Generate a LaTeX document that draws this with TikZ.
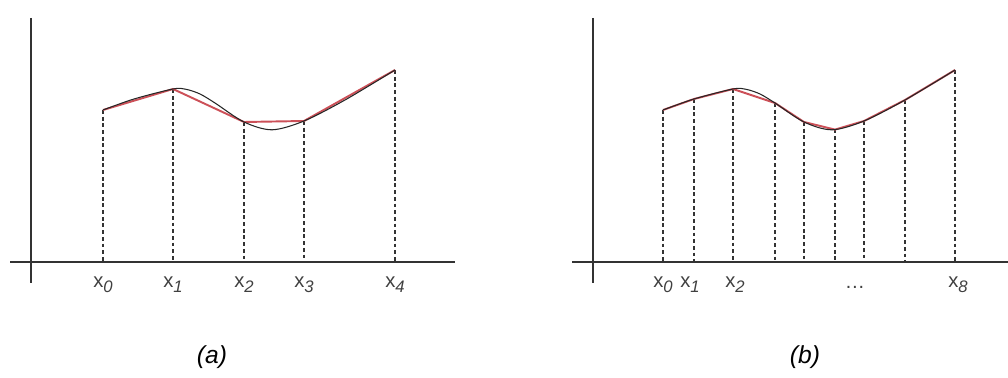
\documentclass[tikz,border=0pt]{standalone}
\usepackage{fontspec}
\setmainfont{Liberation Sans}
\usetikzlibrary{calc}
\definecolor{chordColor}{HTML}{CC5058}

\tikzset{
    axis line/.style={line width=0.8pt, black!80},
    drop line/.style={black!80, line width=0.6pt, dash pattern=on 2.2pt off 1.6pt},
    chord line/.style={chordColor, line width=1.1pt},
    curve line/.style={black!85, line width=0.6pt},
    tick label/.style={font=\fontsize{11.5}{13}\selectfont, text=black!75},
    caption label/.style={font=\fontsize{14}{16}\selectfont\itshape},
}

\newcommand{\xlab}[1]{x\raisebox{-0.45ex}{\fontsize{9.5}{10}\selectfont\itshape #1}}
\newcommand{\fcurve}{%
    \draw[curve line] plot[smooth] coordinates {(103,110) (134,99) (173,89) (186,89.3) (200,94)
        (215,103) (244,122) (272,129.8) (304,121) (345,100) (395,70)};}

\begin{document}
\begin{tikzpicture}[x=0.02cm, y=-0.02cm]
    \useasboundingbox (0,0) rectangle (1008,378);

    % (a) four chords
    \draw[axis line] (31,18) -- (31,283);
    \draw[axis line] (10,262) -- (455,262);
    \foreach \n/\px/\py in {0/103/110, 1/173/89, 2/244/122, 3/304/121, 4/395/70} {
        \coordinate (a\n) at (\px,\py);
        \coordinate (a\n f) at (\px,262);
        \draw[drop line] (a\n) -- (a\n f);
        \node[tick label] (la\n) at (\px,285) {\xlab{\n}};
    }
    \draw[chord line] (a0) -- (a1) -- (a2) -- (a3) -- (a4);
    \fcurve
    \node[caption label] (capa) at (212,357) {(a)};

    % (b) eight chords
    \begin{scope}[shift={(560,0)}]
        \draw[axis line] (33,18) -- (33,283);
        \draw[axis line] (12,262) -- (448,262);
        \foreach \n/\px/\py in {0/103/110, 1/134/99, 2/173/89, 3/215/103, 4/244/122,
                5/275/129.6, 6/304/121, 7/345/100, 8/395/70} {
            \coordinate (b\n) at (\px,\py);
            \coordinate (b\n f) at (\px,262);
            \draw[drop line] (b\n) -- (b\n f);
        }
        \draw[chord line] (b0) -- (b1) -- (b2) -- (b3) -- (b4) -- (b5) -- (b6) -- (b7) -- (b8);
        \fcurve
        \foreach \n/\px in {0/103, 1/130, 2/175, 8/398}
            \node[tick label] (lb\n) at (\px,285) {\xlab{\n}};
        \node[tick label] (ldots) at (295,287) {\ldots};
        \node[caption label] (capb) at (245,357) {(b)};
    \end{scope}
\end{tikzpicture}
\end{document}
